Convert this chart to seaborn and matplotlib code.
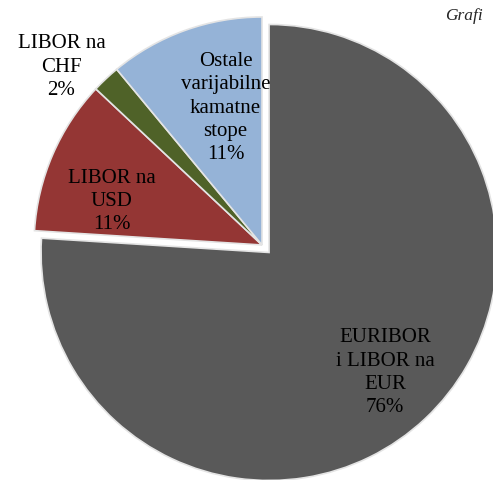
import matplotlib
matplotlib.use("Agg")
import matplotlib.pyplot as plt
import seaborn as sns

# podaci
kategorije = ["EURIBOR\ni LIBOR na\nEUR", "LIBOR na\nUSD", "LIBOR na\nCHF", "Ostale\nvarijabilne\nkamatne\nstope"]
udjeli = [76, 11, 2, 11]
boje = ["#595959", "#943634", "#4F6228", "#95B3D7"]
izdvajanje = [0.045, 0, 0, 0]

sns.set_theme(style="white")
plt.rcParams['font.family'] = ['Liberation Serif', 'DejaVu Serif']

fig = plt.figure(figsize=(4.93, 4.80), dpi=100)
ax = fig.add_axes([0.069, 0.0146, 0.925, 0.95])

wedges, _ = ax.pie(udjeli, colors=boje, explode=izdvajanje, startangle=90,
                   counterclock=False, radius=1,
                   wedgeprops=dict(edgecolor="#e4e4e4", linewidth=1.2))
for w in wedges:
    w.set_clip_on(False)
ax.set_xlim(-1, 1)
ax.set_ylim(-1, 1)
ax.set_aspect("equal")

# oznake
pozicije = [(0.54, -0.56), (-0.66, 0.19), (-0.88, 0.78), (-0.16, 0.60)]
for naziv, udio, (x, y) in zip(kategorije, udjeli, pozicije):
    ax.text(x, y, f"{naziv}\n{udio}%", ha="center", va="center",
            fontsize=15, linespacing=1.3, color="black")

fig.text(0.903, 0.966, "Grafi", fontsize=12.5, style="italic", ha="left", va="center")

plt.savefig("out.png", dpi=100)
